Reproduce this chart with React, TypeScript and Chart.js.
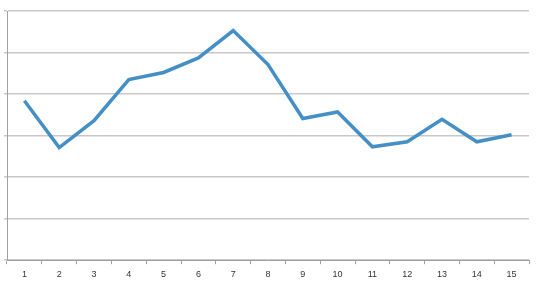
import React, { useEffect, useRef } from "react";
import { Chart, registerables } from "chart.js";

Chart.register(...registerables);

const categories = ["1", "2", "3", "4", "5", "6", "7", "8", "9", "10", "11", "12", "13", "14", "15"];
const seriesValues = [3.84, 2.71, 3.36, 4.35, 4.52, 4.87, 5.53, 4.71, 3.41, 3.57, 2.73, 2.85, 3.39, 2.85, 3.02];

export default function App() {
  const ref = useRef<HTMLCanvasElement | null>(null);
  useEffect(() => {
    if (!ref.current) return;
    const chart = new Chart(ref.current, {
      type: "line",
      data: {
        labels: categories,
        datasets: [
          {
            data: seriesValues,
            borderColor: "#4490c6",
            borderWidth: 3.5,
            pointRadius: 0,
            tension: 0,
            fill: false,
          },
        ],
      },
      options: {
        animation: false,
        responsive: false,
        maintainAspectRatio: false,
        layout: { padding: { top: 11, right: 7, left: 4, bottom: -2 } },
        plugins: { legend: { display: false }, tooltip: { enabled: false } },
        scales: {
          x: {
            type: "category",
            offset: true,
            grid: {
              offset: true,
              drawOnChartArea: false,
              drawTicks: true,
              tickLength: 4,
              color: "#a0a0a0",
            },
            border: { color: "#a0a0a0", width: 1 },
            ticks: {
              color: "#333333",
              font: { family: "Liberation Sans", size: 9 },
              padding: 5,
              maxRotation: 0,
              autoSkip: false,
            },
          },
          y: {
            min: 0,
            max: 6,
            ticks: { display: false, stepSize: 1 },
            grid: { color: "#c8c8c8", lineWidth: 1.5, tickLength: 3, drawTicks: true },
            border: { color: "#a0a0a0", width: 1 },
          },
        },
      },
    });
    return () => chart.destroy();
  }, []);
  return (
    <div style={{ position: "fixed", left: 0, top: 0, width: 536, height: 283, background: "#fff" }}>
      <canvas ref={ref} width={536} height={283} style={{ display: "block" }} />
    </div>
  );
}
